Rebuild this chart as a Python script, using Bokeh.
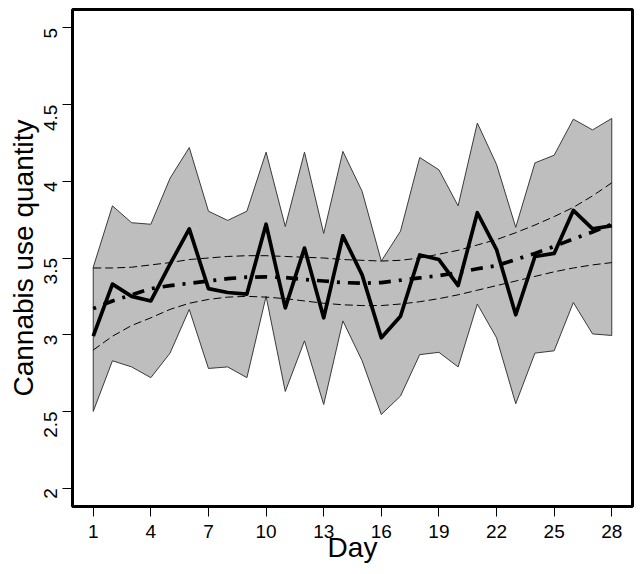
import math
from bokeh.plotting import figure
from bokeh.models import Range1d, FixedTicker
from bokeh.embed import file_html
from bokeh.resources import INLINE

days = list(range(1, 29))
mean_use = [2.99, 3.33, 3.25, 3.22, 3.46, 3.69, 3.30, 3.275, 3.265, 3.72, 3.175, 3.565, 3.11, 3.645,
            3.39, 2.98, 3.12, 3.52, 3.49, 3.32, 3.795, 3.555, 3.13, 3.51, 3.53, 3.81, 3.69, 3.71]
band_upper = [3.44, 3.84, 3.73, 3.72, 4.02, 4.22, 3.805, 3.745, 3.805, 4.19, 3.705, 4.19, 3.66, 4.195,
              3.935, 3.48, 3.675, 4.155, 4.075, 3.84, 4.38, 4.11, 3.70, 4.12, 4.17, 4.405, 4.335, 4.41]
band_lower = [2.50, 2.83, 2.79, 2.72, 2.88, 3.165, 2.78, 2.79, 2.72, 3.25, 2.63, 2.96, 2.545, 3.09,
              2.83, 2.48, 2.60, 2.87, 2.885, 2.79, 3.20, 2.98, 2.55, 2.88, 2.895, 3.21, 3.005, 2.995]
fit_line = [3.17, 3.22, 3.26, 3.30, 3.32, 3.335, 3.35, 3.365, 3.375, 3.377, 3.372, 3.36, 3.35, 3.34,
            3.335, 3.34, 3.355, 3.37, 3.385, 3.405, 3.43, 3.45, 3.49, 3.53, 3.575, 3.625, 3.67, 3.72]
ci_upper = [3.435, 3.435, 3.44, 3.455, 3.47, 3.49, 3.50, 3.51, 3.515, 3.515, 3.51, 3.505, 3.50, 3.49,
            3.485, 3.48, 3.485, 3.50, 3.525, 3.55, 3.585, 3.62, 3.665, 3.715, 3.77, 3.83, 3.905, 3.99]
ci_lower = [2.90, 2.99, 3.06, 3.11, 3.165, 3.205, 3.23, 3.245, 3.25, 3.245, 3.235, 3.22, 3.205, 3.195,
            3.19, 3.19, 3.20, 3.215, 3.235, 3.26, 3.29, 3.32, 3.35, 3.38, 3.41, 3.435, 3.455, 3.47]

x_ticks = [1, 4, 7, 10, 13, 16, 19, 22, 25, 28]
y_ticks = [2, 2.5, 3, 3.5, 4, 4.5, 5]
y_tick_labels = ["2", "2.5", "3", "3.5", "4", "4.5", "5"]
x_title = "Day"
y_title = "Cannabis use quantity"

FONT = "Liberation Sans"

p = figure(frame_width=560, frame_height=497, output_backend="svg", toolbar_location=None,
           x_range=Range1d(-0.08, 29.08), y_range=Range1d(1.88, 5.12),
           min_border_left=72, min_border_right=2, min_border_top=9, min_border_bottom=60)
p.background_fill_color = "white"
p.border_fill_color = "white"
p.outline_line_color = "black"
p.outline_line_width = 3
p.xgrid.visible = False
p.ygrid.visible = False

# band
p.patch(days + days[::-1], band_upper + band_lower[::-1], fill_color="#BEBEBE",
        line_color="#3a3a3a", line_width=1)
# CI lines
p.line(days, ci_upper, line_color="black", line_width=1, line_dash="8 4")
p.line(days, ci_lower, line_color="black", line_width=1, line_dash="8 4")
# observed mean
p.line(days, mean_use, line_color="black", line_width=3.7, line_join="round")
# fitted
p.line(days, fit_line, line_color="black", line_width=3.7, line_dash="3 8 12 8")

for ax in (p.xaxis[0], p.yaxis[0]):
    ax.axis_line_color = None
    ax.major_tick_line_color = "black"
    ax.major_tick_line_width = 1
    ax.major_tick_out = 10
    ax.major_tick_in = 0
    ax.minor_tick_line_color = None
    ax.major_label_text_font = FONT
    ax.major_label_text_font_size = "19px"
    ax.major_label_text_color = "black"
    ax.axis_label_text_font = FONT
    ax.axis_label_text_font_size = "28px"
    ax.axis_label_text_font_style = "normal"
    ax.axis_label_text_color = "black"

p.xaxis.ticker = FixedTicker(ticks=x_ticks)
p.yaxis.ticker = FixedTicker(ticks=y_ticks)
p.yaxis.major_label_overrides = {t: s for t, s in zip(y_ticks, y_tick_labels)}
p.yaxis.major_label_orientation = math.pi / 2
p.xaxis.axis_label = x_title
p.yaxis.axis_label = y_title
p.xaxis.major_label_standoff = 8
p.xaxis.axis_label_standoff = -9
p.yaxis.major_label_standoff = 12
p.yaxis.axis_label_standoff = -4

open("out.html", "w").write(file_html(p, INLINE))
